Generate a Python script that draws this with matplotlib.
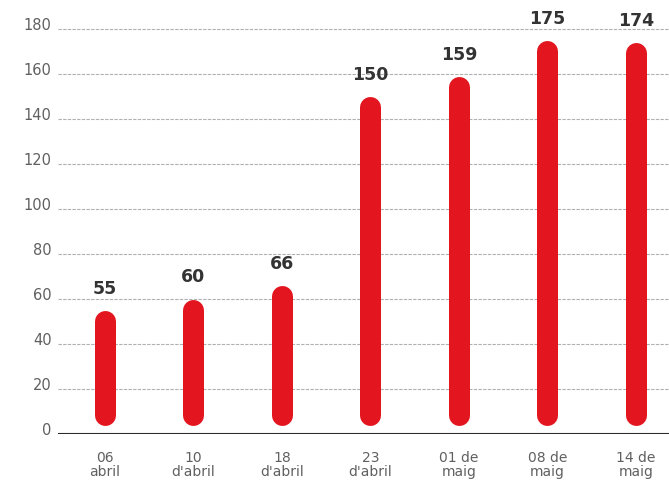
import matplotlib
matplotlib.use("Agg")
import matplotlib.pyplot as plt
from matplotlib.transforms import ScaledTranslation

# dades
dates = ["06\nabril", "10\nd'abril", "18\nd'abril", "23\nd'abril",
         "01 de\nmaig", "08 de\nmaig", "14 de\nmaig"]
values = [55, 60, 66, 150, 159, 175, 174]
yticks = [0, 20, 40, 60, 80, 100, 120, 140, 160, 180]

red = "#e3161f"
grey = "#606060"

fig = plt.figure(figsize=(6.69, 4.83), dpi=100)
ax = fig.add_axes([58 / 669, 1 - 434 / 483, 611 / 669, (434 - 17.75) / 483])
ax.set_xlim(-0.531, 6.373)
ax.set_ylim(0, 185)

# radi de l'extrem arrodonit en unitats de dades
bar_px = 21
px_per_unit = (434 - 17.75) / 185
r = bar_px / 2 / px_per_unit
base = 4

for i, v in enumerate(values):
    ax.plot([i, i], [base + r, v - r], color=red, lw=bar_px * 72 / 100,
            solid_capstyle="round", zorder=3)
    ax.annotate(str(v), (i, v), xytext=(0, 15.5), textcoords="offset points",
                ha="center", va="center", fontsize=12.5, fontweight="bold",
                color="#333333", zorder=4)

# graella
for t in yticks[1:]:
    ax.axhline(t, color="#b0b0b0", lw=0.8, ls=(0, (3, 1.2)), zorder=1)
ax.axhline(0, color="#2a2a2a", lw=1.5, zorder=2)

for s in ax.spines.values():
    s.set_visible(False)

ax.set_yticks(yticks)
ax.set_yticklabels([str(t) for t in yticks])
ax.tick_params(axis="y", length=0, pad=4.5, labelsize=10.5, labelcolor=grey)
for lab in ax.get_yticklabels():
    lab.set_transform(lab.get_transform() + ScaledTranslation(0, 0.05, fig.dpi_scale_trans))

ax.set_xticks(range(len(dates)))
ax.set_xticklabels(dates, linespacing=1.0)
ax.tick_params(axis="x", length=0, pad=12.5, labelsize=10, labelcolor=grey)

fig.savefig("out.png", dpi=100)
